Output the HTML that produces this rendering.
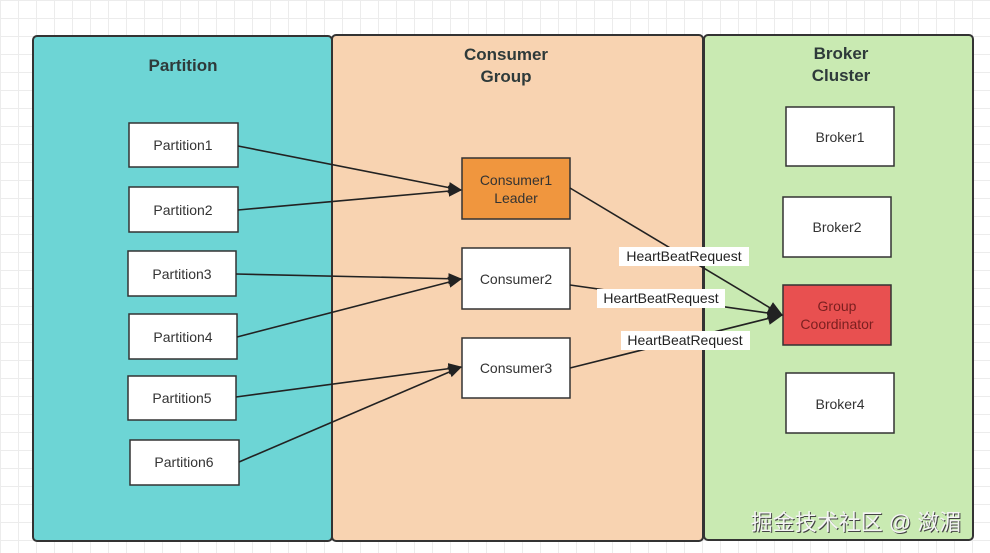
<!DOCTYPE html>
<html><head><style>
html,body{margin:0;padding:0;width:990px;height:553px;overflow:hidden;background:#fff;
background-image:linear-gradient(#ececec 1px,transparent 1px),linear-gradient(90deg,#ececec 1px,transparent 1px);background-size:18px 18px;}
svg{position:absolute;left:0;top:0;font-family:"Liberation Sans","Noto Sans CJK SC",sans-serif;}
</style></head><body>
<svg width="990" height="553" viewBox="0 0 990 553">
<defs><marker id="a" viewBox="0 0 10 10" refX="9" refY="5" markerWidth="14" markerHeight="14" orient="auto" markerUnits="userSpaceOnUse"><path d="M0,1 L10,5 L0,9 z" fill="#222"/></marker>
<marker id="b" viewBox="0 0 10 10" refX="9" refY="5" markerWidth="16" markerHeight="16" orient="auto" markerUnits="userSpaceOnUse"><path d="M0,1 L10,5 L0,9 z" fill="#222"/></marker></defs>
<g stroke="#333" stroke-width="2">
<rect x="33" y="36" width="299" height="505" rx="4" fill="#6dd5d5"/>
<rect x="332" y="35" width="371" height="506" rx="4" fill="#f8d3b1"/>
<rect x="704" y="35" width="269" height="505" rx="4" fill="#c9eab2"/>
</g>
<g font-weight="bold" font-size="17" fill="#2e3a3a" text-anchor="middle">
<text x="183" y="71">Partition</text>
<text x="506" y="60">Consumer</text><text x="506" y="82">Group</text>
<text x="841" y="59">Broker</text><text x="841" y="81">Cluster</text>
</g>
<g stroke="#333" stroke-width="1.5" fill="#fff">
<rect x="129" y="123" width="109" height="44"/>
<rect x="129" y="187" width="109" height="45"/>
<rect x="128" y="251" width="108" height="45"/>
<rect x="129" y="314" width="108" height="45"/>
<rect x="128" y="376" width="108" height="44"/>
<rect x="130" y="440" width="109" height="45"/>
<rect x="462" y="158" width="108" height="61" fill="#f0963e"/>
<rect x="462" y="248" width="108" height="61"/>
<rect x="462" y="338" width="108" height="60"/>
<rect x="786" y="107" width="108" height="59"/>
<rect x="783" y="197" width="108" height="60"/>
<rect x="783" y="285" width="108" height="60" fill="#e85050"/>
<rect x="786" y="373" width="108" height="60"/>
</g>
<g stroke="#222" stroke-width="1.6" fill="none" marker-end="url(#a)">
<line x1="238" y1="146" x2="461" y2="190"/>
<line x1="238" y1="210" x2="461" y2="190"/>
<line x1="236" y1="274" x2="461" y2="279"/>
<line x1="237" y1="337" x2="461" y2="279"/>
<line x1="236" y1="397" x2="461" y2="367"/>
<line x1="239" y1="462" x2="461" y2="367"/>
</g>
<g stroke="#222" stroke-width="1.6" fill="none" marker-end="url(#b)">
<line x1="570" y1="188" x2="782" y2="315"/>
<line x1="570" y1="285" x2="782" y2="315"/>
<line x1="570" y1="368" x2="782" y2="315"/>
</g>
<g font-size="14" fill="#333" text-anchor="middle">
<text x="183" y="150">Partition1</text>
<text x="183" y="215">Partition2</text>
<text x="182" y="279">Partition3</text>
<text x="183" y="342">Partition4</text>
<text x="182" y="403">Partition5</text>
<text x="184" y="467">Partition6</text>
<text x="516" y="185">Consumer1</text><text x="516" y="203">Leader</text>
<text x="516" y="284">Consumer2</text>
<text x="516" y="373">Consumer3</text>
<text x="840" y="142">Broker1</text>
<text x="837" y="232">Broker2</text>
<text x="837" y="311" fill="#7a1f1f">Group</text><text x="837" y="329" fill="#7a1f1f">Coordinator</text>
<text x="840" y="409">Broker4</text>
</g>
<g fill="#fff"><rect x="619" y="247" width="130" height="19"/><rect x="597" y="289" width="128" height="19"/><rect x="621" y="331" width="129" height="19"/></g>
<g font-size="14" fill="#222" text-anchor="middle">
<text x="684" y="261">HeartBeatRequest</text>
<text x="661" y="303">HeartBeatRequest</text>
<text x="685" y="345">HeartBeatRequest</text>
</g>
<text x="856" y="530" font-size="22" fill="#444" text-anchor="middle" transform="translate(1,1)">掘金技术社区 @ 潋湄</text>
<text x="856" y="530" font-size="22" fill="#f4f4f4" text-anchor="middle">掘金技术社区 @ 潋湄</text>
</svg>
</body></html>
